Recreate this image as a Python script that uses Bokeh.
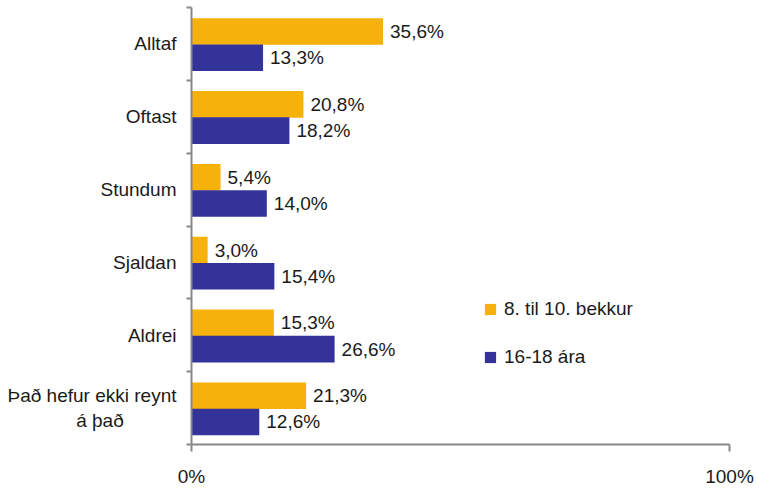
from bokeh.plotting import figure
from bokeh.models import Range1d, FixedTicker, Legend, LegendItem, ColumnDataSource
from bokeh.core.properties import value
from bokeh.embed import file_html
from bokeh.resources import INLINE

categories = ["Alltaf", "Oftast", "Stundum", "Sjaldan", "Aldrei",
              "Það hefur ekki reynt\ná það" + "\u00a0" * 10]
grade_8_10 = [35.6, 20.8, 5.4, 3.0, 15.3, 21.3]
age_16_18 = [13.3, 18.2, 14.0, 15.4, 26.6, 12.6]
series_names = ["8. til 10. bekkur", "16-18 ára"]
x_ticks = [0, 100]
x_tick_labels = ["0%", "100%"]

YELLOW = "#F6B10B"
BLUE = "#333399"
FONT = "Liberation Sans"
FS = "19px"
TXT = "#1a1a1a"
AX = "#888888"

n = len(categories)
centers = [n - i - 0.5 for i in range(n)]
y_yellow = [c + 0.17 for c in centers]
y_blue = [c - 0.19 for c in centers]

def fmt(v):
    return f"{v:.1f}".replace(".", ",") + "%"

src_y = ColumnDataSource(dict(y=y_yellow, x=grade_8_10, lbl=[fmt(v) for v in grade_8_10]))
src_b = ColumnDataSource(dict(y=y_blue, x=age_16_18, lbl=[fmt(v) for v in age_16_18]))

p = figure(width=757, height=489, output_backend="svg", toolbar_location=None,
           x_range=Range1d(0, 100), y_range=Range1d(0, n),
           min_border_left=191, min_border_right=28, min_border_top=7, min_border_bottom=44)
p.outline_line_color = None
p.grid.visible = False
p.background_fill_color = None
p.border_fill_color = "white"

r1 = p.hbar(y="y", right="x", left=0, height=0.365, source=src_y, fill_color=YELLOW, line_color=None)
r2 = p.hbar(y="y", right="x", left=0, height=0.365, source=src_b, fill_color=BLUE, line_color=None)

for src in (src_y, src_b):
    p.text(x="x", y="y", text="lbl", source=src, x_offset=7, text_baseline="middle",
           text_align="left", text_font=value(FONT), text_font_size=FS, text_color=TXT)

# y axis: labels at centers, ticks at boundaries
ya = p.yaxis[0]
ya.ticker = FixedTicker(ticks=centers, minor_ticks=list(range(n + 1)))
ya.major_label_overrides = {c: categories[i] for i, c in enumerate(centers)}
ya.major_tick_out = 0
ya.major_tick_in = 0
ya.minor_tick_out = 5
ya.minor_tick_in = 0
ya.minor_tick_line_color = AX
ya.minor_tick_line_width = 2
ya.axis_line_color = AX
ya.axis_line_width = 2
ya.major_label_standoff = 10
ya.major_label_text_font = FONT
ya.major_label_text_font_size = FS
ya.major_label_text_color = TXT

xa = p.xaxis[0]
xa.ticker = FixedTicker(ticks=x_ticks)
xa.major_label_overrides = {t: l for t, l in zip(x_ticks, x_tick_labels)}
xa.major_tick_out = 7
xa.major_tick_in = 0
xa.major_tick_line_color = AX
xa.major_tick_line_width = 2
xa.minor_tick_line_color = None
xa.axis_line_color = AX
xa.axis_line_width = 2
xa.major_label_standoff = 14
xa.major_label_text_font = FONT
xa.major_label_text_font_size = FS
xa.major_label_text_color = TXT

legend = Legend(items=[LegendItem(label=series_names[0], renderers=[r1]),
                       LegendItem(label=series_names[1], renderers=[r2])],
                location=(292, 76), orientation="vertical")
legend.glyph_width = 14
legend.glyph_height = 14
legend.spacing = 26
legend.padding = 0
legend.margin = 0
legend.label_standoff = 7
legend.border_line_color = None
legend.background_fill_alpha = 0
legend.label_text_font = FONT
legend.label_text_font_size = FS
legend.label_text_color = TXT
p.add_layout(legend, "center")

open("out.html", "w").write(file_html(p, INLINE))
